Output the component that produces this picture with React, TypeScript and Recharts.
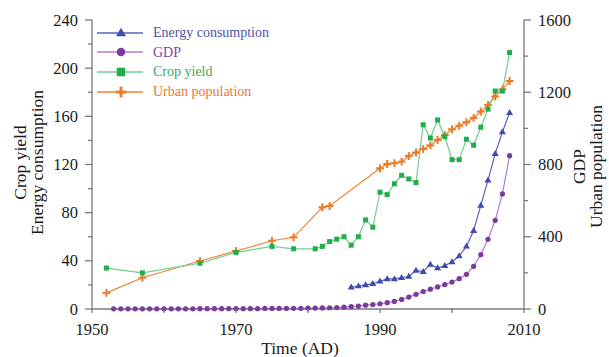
import React from 'react';
import { LineChart, Line, XAxis, YAxis, Legend } from 'recharts';

const FONT = '"Liberation Serif", "Times New Roman", serif';
const AXIS = '#7a7a7a';

// x axis: years, labels every 20, ticks every 10
const YEAR_TICKS = [1950, 1960, 1970, 1980, 1990, 2000, 2010];
const YEAR_LABELS = [1950, 1970, 1990, 2010];
const LEFT_TICKS = [0, 20, 40, 60, 80, 100, 120, 140, 160, 180, 200, 220, 240];
const RIGHT_TICKS = [0, 200, 400, 600, 800, 1000, 1200, 1400, 1600];

// Energy consumption (left axis)
const ENERGY_YEARS = [
  1986, 1987, 1988, 1989, 1990, 1991, 1992, 1993, 1994, 1995, 1996, 1997,
  1998, 1999, 2000, 2001, 2002, 2003, 2004, 2005, 2006, 2007, 2008,
];
const ENERGY = [
  18, 19, 20, 21, 23, 25, 25, 26, 27, 32, 31, 37,
  34, 36, 39, 44, 52, 65, 86, 107, 129, 147, 163,
];

// GDP (right axis)
const GDP_YEARS = [
  1953, 1954, 1955, 1956, 1957, 1958, 1959, 1960, 1961, 1962, 1963, 1964,
  1965, 1966, 1967, 1968, 1969, 1970, 1971, 1972, 1973, 1974, 1975, 1976,
  1977, 1978, 1979, 1980, 1981, 1982, 1983, 1984, 1985, 1986, 1987, 1988,
  1989, 1990, 1991, 1992, 1993, 1994, 1995, 1996, 1997, 1998, 1999, 2000,
  2001, 2002, 2003, 2004, 2005, 2006, 2007, 2008,
];
const GDP = [
  1, 1, 1, 1, 1, 1, 1, 1, 1, 1, 1, 1,
  2, 2, 2, 2, 2, 2, 2, 2, 2, 3, 3, 3,
  3, 4, 4, 5, 5, 6, 7, 8, 10, 13, 16, 21,
  25, 29, 35, 42, 53, 66, 81, 97, 110, 122, 135, 149,
  168, 192, 236, 301, 386, 491, 637, 849,
];

// Crop yield (left axis)
const CROP_YEARS = [
  1952, 1957, 1965, 1970, 1975, 1978, 1981, 1982, 1983, 1984, 1985, 1986,
  1987, 1988, 1989, 1990, 1991, 1992, 1993, 1994, 1995, 1996, 1997, 1998,
  1999, 2000, 2001, 2002, 2003, 2004, 2005, 2006, 2007, 2008,
];
const CROP = [
  34, 30, 38, 47, 52, 50, 50, 52, 56, 58, 60, 53,
  60, 74, 68, 97, 95, 104, 111, 108, 105, 153, 142, 157,
  143, 124, 124, 141, 136, 151, 166, 181, 181, 213,
];

// Urban population (right axis)
const URBAN_YEARS = [
  1952, 1957, 1965, 1970, 1975, 1978, 1982, 1983, 1990, 1991, 1992, 1993,
  1994, 1995, 1996, 1997, 1998, 1999, 2000, 2001, 2002, 2003, 2004, 2005,
  2006, 2007, 2008,
];
const URBAN = [
  89, 173, 266, 321, 378, 397, 563, 570, 779, 803, 807, 816,
  847, 866, 886, 906, 936, 963, 995, 1015, 1034, 1058, 1093, 1130,
  1176, 1216, 1262,
];

const zip = (years: number[], values: number[]) =>
  years.map((year, i) => ({ year, value: values[i] }));

const energyData = zip(ENERGY_YEARS, ENERGY);
const gdpData = zip(GDP_YEARS, GDP);
const cropData = zip(CROP_YEARS, CROP);
const urbanData = zip(URBAN_YEARS, URBAN);

type Shape = 'triangle' | 'circle' | 'square' | 'cross';

const SERIES: { name: string; shape: Shape; line: string; marker: string; text: string }[] = [
  { name: 'Energy consumption', shape: 'triangle', line: '#5b60bd', marker: '#3f4bb0', text: '#4d539f' },
  { name: 'GDP', shape: 'circle', line: '#b47bd2', marker: '#7b3a9f', text: '#8244a6' },
  { name: 'Crop yield', shape: 'square', line: '#6fcf8e', marker: '#1fae4b', text: '#3da864' },
  { name: 'Urban population', shape: 'cross', line: '#f0823a', marker: '#f07a26', text: '#e9783a' },
];

const Marker = ({ cx, cy, shape, color, size }: { cx: number; cy: number; shape: Shape; color: string; size: number }) => {
  if (cx == null || cy == null) return null;
  switch (shape) {
    case 'triangle': {
      const s = size * 0.62;
      return (
        <path
          d={`M${cx},${cy - s} L${cx + s * 0.95},${cy + s * 0.6} L${cx - s * 0.95},${cy + s * 0.6} Z`}
          fill={color}
        />
      );
    }
    case 'circle':
      return <circle cx={cx} cy={cy} r={size * 0.5} fill={color} />;
    case 'square':
      return <rect x={cx - size / 2} y={cy - size / 2} width={size} height={size} fill={color} />;
    default: {
      const s = size * 0.6;
      return (
        <g stroke={color} strokeWidth={size * 0.32}>
          <line x1={cx - s} x2={cx + s} y1={cy} y2={cy} />
          <line x1={cx} x2={cx} y1={cy - s} y2={cy + s} />
        </g>
      );
    }
  }
};

const dotFor = (idx: number, size: number) => (p: any) => (
  <Marker
    key={`${idx}-${p.index}`}
    cx={p.cx}
    cy={p.cy}
    shape={SERIES[idx].shape}
    color={SERIES[idx].marker}
    size={size}
  />
);

const XTick = (props: any) => {
  const { x, y, payload } = props;
  const labelled = YEAR_LABELS.includes(payload.value);
  return (
    <g>
      <line x1={x} x2={x} y1={y} y2={y + 4} stroke={AXIS} strokeWidth={1.3} />
      {labelled && (
        <text x={x} y={y + 20} textAnchor="middle" dominantBaseline="central" fontFamily={FONT} fontSize={16.5} fill="#1a1a1a">
          {payload.value}
        </text>
      )}
    </g>
  );
};

const LeftTick = (props: any) => {
  const { x, y, payload } = props;
  const major = payload.value % 40 === 0;
  return (
    <g>
      <line x1={x - (major ? 7 : 4)} x2={x} y1={y} y2={y} stroke={AXIS} strokeWidth={1.3} />
      {major && (
        <text x={x - 14} y={y} textAnchor="end" dominantBaseline="central" fontFamily={FONT} fontSize={16.5} fill="#1a1a1a">
          {payload.value}
        </text>
      )}
    </g>
  );
};

const RightTick = (props: any) => {
  const { x, y, payload } = props;
  const major = payload.value % 400 === 0;
  return (
    <g>
      <line x1={x} x2={x + (major ? 7 : 4)} y1={y} y2={y} stroke={AXIS} strokeWidth={1.3} />
      {major && (
        <text x={x + 14} y={y} textAnchor="start" dominantBaseline="central" fontFamily={FONT} fontSize={16.5} fill="#1a1a1a">
          {payload.value}
        </text>
      )}
    </g>
  );
};

// two-line rotated axis titles, both read bottom to top
const AxisTitle = ({ viewBox, lines, offsets, shift }: any) => {
  const { x, y, height } = viewBox;
  const cy = y + height / 2 + shift;
  return (
    <g fontFamily={FONT} fontSize={17.5} fill="#1a1a1a">
      {lines.map((t: string, i: number) => (
        <text
          key={t}
          x={x + offsets[i]}
          y={cy}
          textAnchor="middle"
          dominantBaseline="central"
          transform={`rotate(-90, ${x + offsets[i]}, ${cy})`}
        >
          {t}
        </text>
      ))}
    </g>
  );
};

const TimeTitle = ({ viewBox }: any) => {
  const { x, y, width } = viewBox;
  return (
    <text
      x={x + width / 2 - 8}
      y={y + 39}
      textAnchor="middle"
      dominantBaseline="central"
      fontFamily={FONT}
      fontSize={17.5}
      fill="#1a1a1a"
    >
      Time (AD)
    </text>
  );
};

const LegendBox = () => (
  <div style={{ fontFamily: FONT, fontSize: 14, lineHeight: '19.6px' }}>
    {SERIES.map((s) => (
      <div key={s.name} style={{ display: 'flex', alignItems: 'center', height: 19.6 }}>
        <svg width={46} height={14} style={{ display: 'block' }}>
          <line x1={0} x2={46} y1={7} y2={7} stroke={s.line} strokeWidth={1.3} />
          <Marker cx={24} cy={7} shape={s.shape} color={s.marker} size={s.shape === 'cross' ? 9 : 8.5} />
        </svg>
        <span style={{ marginLeft: 10, color: s.text, whiteSpace: 'nowrap' }}>{s.name}</span>
      </div>
    ))}
  </div>
);

const App: React.FC = () => {
  return (
    <div style={{ position: 'absolute', left: 0, top: 0, width: 609, height: 357, background: '#ffffff' }}>
      <LineChart width={609} height={357} margin={{ top: 20, right: 0, bottom: 0, left: 0 }}>
        <XAxis
          xAxisId="bottom"
          dataKey="year"
          type="number"
          domain={[1950, 2010]}
          ticks={YEAR_TICKS}
          interval={0}
          height={48}
          tickSize={0}
          tickMargin={0}
          tickLine={false}
          axisLine={{ stroke: AXIS, strokeWidth: 1.3 }}
          tick={<XTick />}
          label={<TimeTitle />}
        />
        <XAxis
          xAxisId="top"
          orientation="top"
          dataKey="year"
          type="number"
          domain={[1950, 2010]}
          height={0}
          tick={false}
          tickLine={false}
          axisLine={{ stroke: AXIS, strokeWidth: 1.3 }}
        />
        <YAxis
          yAxisId="left"
          domain={[0, 240]}
          ticks={LEFT_TICKS}
          interval={0}
          width={92}
          tickSize={0}
          tickMargin={0}
          tickLine={false}
          axisLine={{ stroke: AXIS, strokeWidth: 1.3 }}
          tick={<LeftTick />}
          label={<AxisTitle lines={['Crop yield', 'Energy consumption']} offsets={[20, 37]} shift={-2} />}
        />
        <YAxis
          yAxisId="right"
          orientation="right"
          domain={[0, 1600]}
          ticks={RIGHT_TICKS}
          interval={0}
          width={85}
          tickSize={0}
          tickMargin={0}
          tickLine={false}
          axisLine={{ stroke: AXIS, strokeWidth: 1.3 }}
          tick={<RightTick />}
          label={<AxisTitle lines={['GDP', 'Urban population']} offsets={[55, 72]} shift={2} />}
        />
        <Legend
          layout="vertical"
          align="center"
          verticalAlign="middle"
          content={<LegendBox />}
          wrapperStyle={{ left: 97, top: 23, width: 220 }}
        />
        <Line
          xAxisId="bottom"
          yAxisId="right"
          data={urbanData}
          dataKey="value"
          name="Urban population"
          type="linear"
          stroke={SERIES[3].line}
          strokeWidth={1.2}
          dot={dotFor(3, 6.5)}
          activeDot={false}
          isAnimationActive={false}
        />
        <Line
          xAxisId="bottom"
          yAxisId="left"
          data={cropData}
          dataKey="value"
          name="Crop yield"
          type="linear"
          stroke={SERIES[2].line}
          strokeWidth={1.2}
          dot={dotFor(2, 5)}
          activeDot={false}
          isAnimationActive={false}
        />
        <Line
          xAxisId="bottom"
          yAxisId="right"
          data={gdpData}
          dataKey="value"
          name="GDP"
          type="linear"
          stroke={SERIES[1].line}
          strokeWidth={1.2}
          dot={dotFor(1, 5.2)}
          activeDot={false}
          isAnimationActive={false}
        />
        <Line
          xAxisId="bottom"
          yAxisId="left"
          data={energyData}
          dataKey="value"
          name="Energy consumption"
          type="linear"
          stroke={SERIES[0].line}
          strokeWidth={1.2}
          dot={dotFor(0, 6)}
          activeDot={false}
          isAnimationActive={false}
        />
      </LineChart>
    </div>
  );
};

export default App;
